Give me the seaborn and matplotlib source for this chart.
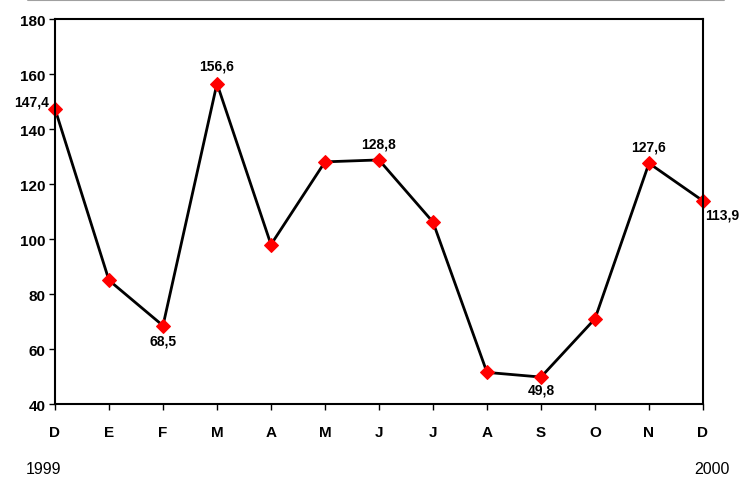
import numpy as np
import pandas as pd
import matplotlib
matplotlib.use("Agg")
import matplotlib.pyplot as plt
import seaborn as sns
from matplotlib.lines import Line2D

# monthly values, Dec 1999 - Dec 2000
months = ["D", "E", "F", "M", "A", "M", "J", "J", "A", "S", "O", "N", "D"]
values = [147.4, 85.0, 68.5, 156.6, 98.0, 128.1, 128.8, 106.2, 51.5, 49.8, 71.0, 127.6, 113.9]
# which points get a value label
labelled = [0, 2, 3, 6, 9, 11, 12]

df = pd.DataFrame({"pos": np.arange(len(months)), "val": values})

sns.set_style("white")
plt.rcParams["font.family"] = ["Liberation Sans", "DejaVu Sans"]
plt.rcParams["text.color"] = "black"
plt.rcParams["xtick.color"] = "black"
plt.rcParams["ytick.color"] = "black"

fig = plt.figure(figsize=(7.41, 4.81), dpi=100)
ax = fig.add_axes([0.0742, 0.158, 0.8745, 0.8])

sns.lineplot(data=df, x="pos", y="val", color="black", linewidth=2, ax=ax,
             marker="D", markersize=7, markerfacecolor="red", markeredgecolor="red")
for ln in ax.lines:
    ln.set_clip_on(False)

ax.set_xlim(0, len(months) - 1)
ax.set_ylim(40, 180)
ax.set_yticks(np.arange(40, 181, 20))
ax.set_xticks(df["pos"])
ax.set_xticklabels(months)
ax.set_xlabel("")
ax.set_ylabel("")

for lbl in ax.get_xticklabels() + ax.get_yticklabels():
    lbl.set_fontweight("bold")
    lbl.set_fontsize(11)
ax.tick_params(axis="x", length=4, width=1, pad=11, direction="out", bottom=True)
ax.tick_params(axis="y", length=4, width=1, pad=3, direction="out", left=True)

for s in ax.spines.values():
    s.set_color("black")
    s.set_linewidth(1.5)

# value labels, placement as in the original
offsets = {0: (-17, 5), 2: (0, -11), 3: (0, 13), 6: (0, 12), 9: (0, -9), 11: (0, 12), 12: (14, -10)}
for i in labelled:
    txt = f"{values[i]:.1f}".replace(".", ",")
    ax.annotate(txt, (df["pos"][i], values[i]), xytext=offsets[i], textcoords="offset points",
                ha="center", va="center", fontsize=10, fontweight="bold", annotation_clip=False)

fig.text(0.035, 0.023, "1999", fontsize=11.5, ha="left", va="center")
fig.text(0.985, 0.023, "2000", fontsize=11.5, ha="right", va="center")

fig.add_artist(Line2D([0.038, 0.977], [0.997, 0.997], color="#a0a0a0", linewidth=1.5,
                      transform=fig.transFigure))

fig.savefig("out.png", dpi=100)
